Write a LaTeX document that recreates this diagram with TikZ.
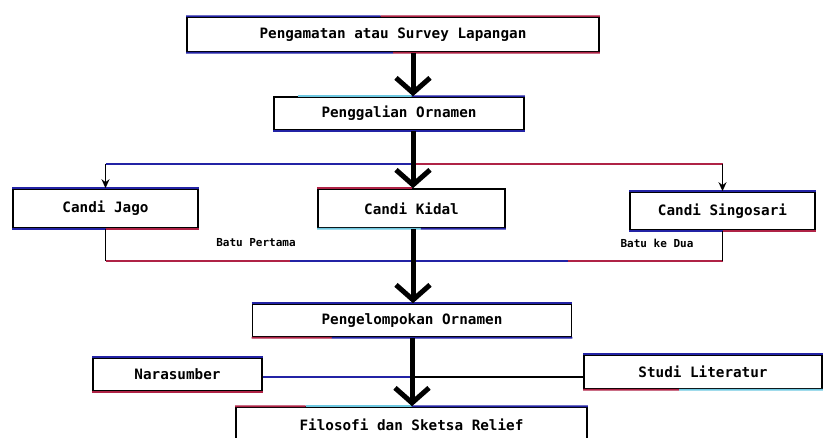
\documentclass[tikz,border=0pt]{standalone}
\usepackage{fontspec}
\setmonofont{DejaVu Sans Mono}
\usetikzlibrary{arrows.meta,calc}
\definecolor{navy}{RGB}{35,35,165}
\definecolor{crim}{RGB}{175,35,70}
\definecolor{cyn}{RGB}{110,200,225}
\begin{document}
\begin{tikzpicture}[x=1pt,y=-1pt,
  box/.style={draw=black,line width=1.6pt,fill=white,inner sep=0pt,
    font=\ttfamily\bfseries\fontsize{14.3}{16}\selectfont},
  lbl/.style={inner sep=0pt,font=\ttfamily\bfseries\fontsize{11}{13}\selectfont},
  bigarrow/.style={line width=5pt,-{Straight Barb[length=15pt,width=34pt,line width=5pt]}},
  thinarrow/.style={line width=1.5pt,-{Stealth[length=9pt,width=8pt]}},
  thinline/.style={line width=1.5pt},
  edge/.style={line width=1.6pt}]
\useasboundingbox (0,0) rectangle (825,438);
\fill[white] (0,0) rectangle (825,438);

% boxes
\node[box,minimum width=412pt,minimum height=35pt] (b1) at (393,34.5) {Pengamatan atau Survey Lapangan};
\node[box,minimum width=250pt,minimum height=33pt] (b2) at (399,113.5) {Penggalian Ornamen};
\node[box,minimum width=185pt,minimum height=39pt] (jago) at (105.5,208.5) {Candi Jago};
\node[box,minimum width=187pt,minimum height=39pt] (kidal) at (411.5,208.5) {Candi Kidal};
\node[box,minimum width=185pt,minimum height=38pt] (sing) at (722.5,211) {Candi Singosari};
\node[box,minimum width=319pt,minimum height=33pt] (peng) at (412,320.5) {Pengelompokan Ornamen};
\node[box,minimum width=169pt,minimum height=33pt] (nara) at (177.5,374.5) {Narasumber};
\node[box,minimum width=238pt,minimum height=34pt] (stud) at (703,372) {Studi Literatur};
\node[box,minimum width=351pt,minimum height=36pt] (filo) at (411.5,425) {Filosofi dan Sketsa Relief};

% coloured top / bottom edges
\draw[edge,navy] (b1.north west) -- ($(b1.north west)!0.47!(b1.north east)$);
\draw[edge,crim] ($(b1.north west)!0.47!(b1.north east)$) -- (b1.north east);
\draw[edge,navy] (b1.south west) -- ($(b1.south west)!0.5!(b1.south east)$);
\draw[edge,crim] ($(b1.south west)!0.5!(b1.south east)$) -- (b1.south east);
\draw[edge,cyn] ($(b2.north west)!0.1!(b2.north east)$) -- ($(b2.north west)!0.55!(b2.north east)$);
\draw[edge,navy] ($(b2.north west)!0.55!(b2.north east)$) -- (b2.north east);
\draw[edge,navy] (b2.south west) -- (b2.south east);
\draw[edge,navy] (jago.north west) -- (jago.north east);
\draw[edge,navy] (jago.south west) -- (jago.south);
\draw[edge,crim] (jago.south) -- (jago.south east);
\draw[edge,crim] (kidal.north west) -- (kidal.north);
\draw[edge,cyn] (kidal.south west) -- ($(kidal.south west)!0.55!(kidal.south east)$);
\draw[edge,navy] ($(kidal.south west)!0.55!(kidal.south east)$) -- (kidal.south east);
\draw[edge,navy] (sing.north west) -- (sing.north east);
\draw[edge,navy] (sing.south west) -- (sing.south);
\draw[edge,crim] (sing.south) -- (sing.south east);
\draw[edge,navy] (peng.north west) -- (peng.north east);
\draw[edge,crim] (peng.south west) -- ($(peng.south west)!0.25!(peng.south east)$);
\draw[edge,navy] ($(peng.south west)!0.25!(peng.south east)$) -- (peng.south east);
\draw[edge,navy] (nara.north west) -- (nara.north east);
\draw[edge,crim] (nara.south west) -- (nara.south east);
\draw[edge,navy] (stud.north west) -- (stud.north east);
\draw[edge,crim] (stud.south west) -- ($(stud.south west)!0.4!(stud.south east)$);
\draw[edge,cyn] ($(stud.south west)!0.4!(stud.south east)$) -- (stud.south east);
\draw[edge,crim] (filo.north west) -- ($(filo.north west)!0.2!(filo.north east)$);
\draw[edge,cyn] ($(filo.north west)!0.2!(filo.north east)$) -- ($(filo.north west)!0.5!(filo.north east)$);
\draw[edge,navy] ($(filo.north west)!0.5!(filo.north east)$) -- (filo.north east);

% junction points
\coordinate (split) at (413,164);
\coordinate (merge) at (413,261);
\coordinate (mid) at (412,377);

% branch line above the three candi
\draw[thinline,navy] (split -| jago.north) -- (split);
\draw[thinline,crim] (split) -- (split -| sing.north);
\draw[thinarrow] (split -| jago.north) -- (jago.north);
\draw[thinarrow] (split -| sing.north) -- (sing.north);

% merge line below the candi
\draw[thinline] (jago.south) -- (merge -| jago.south);
\draw[thinline,crim] (merge -| jago.south) -- ($(merge -| jago.south)!0.6!(merge)$);
\draw[thinline,navy] ($(merge -| jago.south)!0.6!(merge)$) -- (merge);
\draw[thinline,navy] (merge) -- ($(merge)!0.5!(merge -| sing.south)$);
\draw[thinline,crim] ($(merge)!0.5!(merge -| sing.south)$) -- (merge -| sing.south);
\draw[thinline] (merge -| sing.south) -- (sing.south);
\node[lbl] (bp) at (256,243) {Batu Pertama};
\node[lbl] (bk) at (657,243) {Batu ke Dua};

% line between Narasumber and Studi Literatur
\draw[thinline,navy] (mid -| nara.east) -- (mid);
\draw[thinline] (mid) -- (mid -| stud.west);

% main thick arrows
\draw[bigarrow] (b1.south -| split) -- (b2.north -| split);
\draw[bigarrow] (b2.south -| split) -- (kidal.north -| split);
\draw[bigarrow] (kidal.south -| split) -- (peng.north -| split);
\draw[bigarrow] (peng.south -| mid) -- (filo.north -| mid);
\end{tikzpicture}
\end{document}
